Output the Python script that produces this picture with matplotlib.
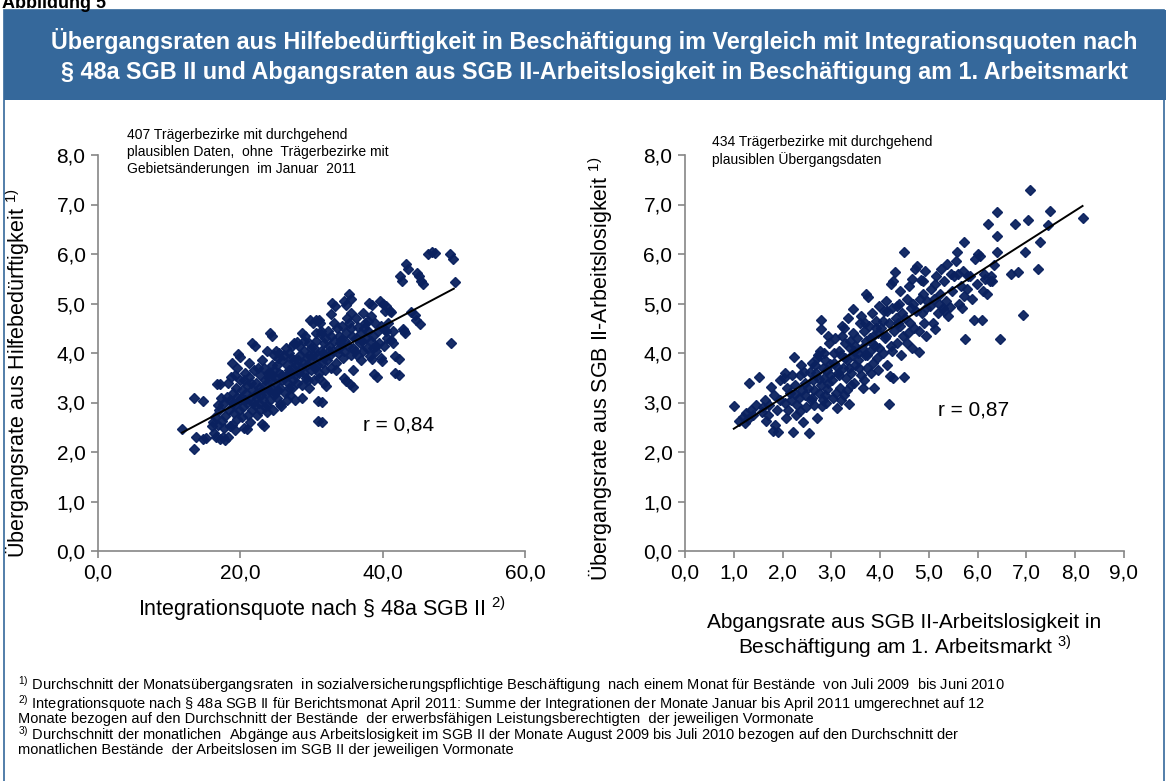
import numpy as np
import matplotlib
matplotlib.use("Agg")
from matplotlib import pyplot as plt
from matplotlib.patches import Rectangle

plt.rcParams['font.family'] = ['Liberation Sans', 'DejaVu Sans']
plt.rcParams['mathtext.fontset'] = 'custom'
plt.rcParams['mathtext.rm'] = 'Liberation Sans'
plt.rcParams['mathtext.it'] = 'Liberation Sans:italic'

# Integrationsquote (x) vs. Übergangsrate aus Hilfebedürftigkeit (y)
punkte_links = [
    (11.8, 2.46), (13.5, 2.07), (13.8, 2.31), (14.7, 2.26), (13.5, 3.09), (14.7, 3.03), (15.2, 2.28),
    (16.0, 2.53), (16.3, 2.38), (16.6, 2.31), (16.9, 2.55), (17.2, 2.27), (17.5, 2.30), (17.8, 2.24),
    (16.5, 2.70), (17.0, 2.84), (17.4, 2.62), (16.7, 3.38), (17.1, 3.37), (17.6, 2.96), (17.9, 2.72),
    (16.2, 2.61), (17.3, 3.10), (17.7, 2.48), (16.8, 2.95),
    (18.2, 3.40), (18.8, 3.80), (19.7, 3.97), (18.3, 2.30), (18.6, 2.52), (18.8, 2.55), (19.1, 2.78),
    (19.3, 2.95), (19.6, 3.12), (18.5, 3.05), (18.9, 3.20), (19.2, 3.55), (19.5, 2.66), (19.8, 2.85),
    (18.4, 2.85), (19.0, 3.00), (19.4, 3.30), (19.9, 3.45), (18.7, 3.52), (19.3, 2.45), (19.9, 3.05),
    (18.1, 3.12), (19.6, 3.70),
    (20.0, 3.92), (20.5, 2.48), (20.9, 2.46), (20.2, 2.70), (20.4, 2.90), (20.6, 3.05), (20.8, 3.20),
    (21.0, 3.35), (21.2, 3.52), (21.4, 3.10), (21.6, 2.85), (21.8, 3.00), (20.3, 3.25), (20.7, 3.60),
    (21.1, 2.75), (21.3, 2.60), (21.5, 3.40), (21.7, 3.25), (21.9, 3.65), (20.1, 3.10), (21.6, 4.21),
    (22.0, 4.14), (21.0, 3.00), (20.5, 3.45), (21.2, 3.80),
    (22.1, 2.95), (22.3, 3.10), (22.5, 3.69), (22.6, 3.30), (22.8, 2.85), (23.0, 2.57), (23.2, 3.05),
    (23.3, 2.53), (23.4, 3.45), (23.6, 3.20), (23.8, 2.95), (23.9, 3.60), (22.2, 3.40), (22.4, 2.75),
    (22.7, 3.55), (22.9, 3.15), (23.1, 3.85), (23.5, 3.35), (23.7, 4.05), (24.0, 3.25), (22.6, 3.00),
    (23.3, 3.70), (23.0, 3.25), (23.8, 2.80), (22.4, 3.20), (24.0, 3.50), (23.4, 2.90),
    (24.2, 4.41), (24.4, 4.35), (24.1, 3.05), (24.3, 3.30), (24.5, 3.55), (24.7, 3.15), (24.9, 3.40),
    (25.1, 3.75), (25.3, 3.25), (25.5, 3.60), (25.6, 2.97), (25.7, 2.93), (25.8, 3.45), (25.9, 3.85),
    (24.6, 2.85), (24.8, 3.95), (25.0, 4.05), (25.2, 3.10), (25.4, 4.00), (24.4, 3.75), (25.0, 3.50),
    (25.6, 3.30), (24.7, 3.65), (25.9, 3.55), (25.3, 3.90), (24.2, 3.60), (24.9, 3.20),
    (26.1, 3.50), (26.3, 3.20), (26.5, 3.75), (26.7, 3.40), (26.9, 4.00), (27.1, 3.60), (27.3, 3.30),
    (27.5, 3.85), (27.7, 3.55), (27.9, 4.23), (26.2, 3.95), (26.4, 4.10), (26.6, 3.05), (26.8, 3.65),
    (27.0, 3.15), (27.2, 4.15), (27.4, 3.45), (27.6, 4.20), (27.8, 3.75), (28.0, 3.40), (26.5, 3.55),
    (27.1, 3.90), (27.7, 3.05), (26.9, 3.30), (27.4, 3.70),
    (28.2, 3.60), (28.4, 3.95), (28.6, 3.35), (28.8, 3.80), (29.0, 4.05), (29.2, 3.50), (29.4, 3.75),
    (29.6, 4.20), (29.8, 4.67), (29.9, 3.65), (28.3, 4.15), (28.7, 3.10), (29.1, 4.35), (29.5, 3.45),
    (28.5, 3.70), (28.9, 4.25), (29.3, 3.90), (29.7, 3.30), (28.1, 3.85), (29.0, 3.60), (29.6, 3.95),
    (28.6, 4.40), (29.9, 4.10),
    (30.2, 4.61), (30.7, 4.67), (31.2, 4.61), (30.9, 3.03), (30.9, 2.63), (31.5, 3.02), (31.5, 2.61),
    (31.0, 4.67), (31.3, 4.38), (31.8, 3.39), (30.1, 3.85), (30.3, 4.10), (30.5, 3.70), (30.7, 4.25),
    (30.9, 3.95), (31.1, 3.60), (31.3, 4.05), (31.5, 3.80), (31.7, 4.20), (31.9, 3.65), (30.4, 3.45),
    (30.6, 4.40), (31.0, 3.50), (31.4, 4.45), (31.8, 3.90), (30.2, 3.95), (31.6, 4.00), (30.8, 3.75),
    (31.9, 4.30),
    (32.1, 3.34), (32.8, 4.78), (32.9, 5.02), (33.3, 4.95), (32.2, 3.85), (32.4, 4.15), (32.6, 3.95),
    (32.8, 4.35), (33.0, 4.05), (33.2, 4.25), (33.4, 3.80), (33.6, 4.50), (33.8, 4.10), (33.9, 4.35),
    (32.3, 4.45), (32.7, 3.70), (33.1, 4.60), (33.5, 3.65), (33.7, 4.00), (32.5, 4.05), (34.0, 4.20),
    (34.2, 4.27), (34.5, 5.06), (34.8, 4.96), (35.2, 5.19), (35.5, 5.10), (34.8, 3.43), (35.8, 3.31),
    (35.8, 3.65), (35.4, 3.37), (34.5, 3.50), (35.6, 4.81), (34.3, 4.55), (34.6, 4.05), (34.9, 4.40),
    (35.1, 4.15), (35.3, 4.60), (35.5, 3.95), (35.7, 4.35), (35.9, 4.10), (34.4, 3.90), (35.0, 4.70),
    (35.6, 4.50), (34.7, 4.25),
    (36.6, 4.52), (37.3, 4.81), (37.5, 4.60), (36.2, 4.30), (36.4, 3.95), (36.8, 4.20), (37.0, 4.40),
    (37.2, 4.05), (37.6, 4.30), (37.8, 4.10), (36.3, 4.70), (36.9, 3.85), (37.4, 4.50), (37.9, 4.65),
    (36.1, 4.05), (37.1, 4.25),
    (38.1, 5.02), (38.5, 4.97), (38.4, 4.74), (38.0, 4.44), (38.5, 3.88), (38.8, 3.57), (39.2, 3.52),
    (39.6, 5.05), (39.7, 3.89), (39.8, 4.55), (39.9, 3.84), (38.2, 3.93), (38.3, 4.25), (38.7, 4.35),
    (39.0, 4.15), (39.3, 4.45), (39.5, 4.20), (38.9, 4.60), (39.1, 4.05), (38.6, 4.10),
    (40.0, 5.00), (40.3, 4.85), (40.5, 4.94), (41.1, 4.85), (40.3, 4.46), (40.5, 4.44), (41.2, 4.83),
    (41.2, 4.26), (41.4, 4.20), (41.8, 3.93), (41.8, 3.60), (40.2, 4.15), (40.8, 4.60), (41.5, 4.45),
    (40.6, 4.30),
    (42.3, 3.88), (42.3, 3.55), (42.7, 5.46), (43.6, 5.70), (43.3, 5.79), (42.4, 5.56), (43.1, 4.40),
    (42.8, 4.48), (44.0, 4.83), (44.7, 4.67), (44.5, 4.76), (45.2, 4.59), (44.8, 5.62), (45.1, 5.56),
    (45.4, 5.46), (45.7, 5.39), (43.0, 4.45),
    (46.4, 5.99), (47.0, 6.05), (47.3, 6.03), (49.4, 5.99), (49.9, 5.90), (50.1, 5.43), (49.6, 4.20),
]

# Abgangsrate aus SGB II-Arbeitslosigkeit (x) vs. Übergangsrate (y)
punkte_rechts = [
    (1.01, 2.92), (1.10, 2.62), (1.18, 2.70), (1.25, 2.78), (1.31, 3.39), (1.35, 2.85), (1.40, 2.75),
    (1.22, 2.58), (1.45, 2.95), (1.30, 2.66),
    (1.51, 3.51), (1.60, 2.90), (1.65, 3.05), (1.70, 2.75), (1.76, 3.32), (1.80, 2.42), (1.85, 2.55),
    (1.90, 2.40), (1.72, 2.95), (1.95, 3.05), (1.58, 2.80), (1.88, 2.85), (1.95, 3.45), (1.82, 3.15),
    (1.66, 2.62),
    (2.02, 3.49), (2.05, 3.60), (2.08, 2.68), (2.12, 2.85), (2.15, 3.20), (2.18, 3.05), (2.21, 2.40),
    (2.23, 3.91), (2.26, 3.35), (2.30, 2.95), (2.33, 3.10), (2.36, 3.55), (2.40, 3.25), (2.42, 2.60),
    (2.45, 3.40), (2.48, 2.90), (2.10, 3.30), (2.28, 2.75), (2.38, 3.75), (2.46, 3.15), (2.20, 3.55),
    (2.35, 2.82), (2.44, 3.62), (2.05, 3.00), (2.25, 3.18),
    (2.52, 3.30), (2.55, 2.39), (2.58, 3.05), (2.60, 3.80), (2.62, 3.45), (2.65, 2.95), (2.68, 3.60),
    (2.71, 2.69), (2.72, 3.95), (2.74, 3.20), (2.76, 4.05), (2.78, 3.35), (2.79, 4.66), (2.79, 4.48),
    (2.80, 2.92), (2.82, 3.70), (2.84, 3.50), (2.86, 3.15), (2.88, 3.85), (2.90, 3.00), (2.92, 3.65),
    (2.94, 3.40), (2.96, 4.20), (2.98, 3.55), (2.56, 3.62), (2.64, 3.25), (2.70, 3.90), (2.85, 4.00),
    (2.91, 3.28), (2.97, 3.78), (2.60, 3.10), (2.75, 3.48), (2.83, 3.05), (2.93, 4.35), (2.67, 3.75),
    (3.02, 3.45), (3.05, 3.80), (3.08, 4.30), (3.11, 2.88), (3.13, 3.60), (3.15, 4.05), (3.18, 3.30),
    (3.20, 3.95), (3.22, 4.55), (3.24, 3.70), (3.26, 3.15), (3.28, 4.20), (3.30, 3.50), (3.32, 3.85),
    (3.34, 4.70), (3.37, 2.96), (3.38, 4.10), (3.40, 3.60), (3.42, 3.95), (3.44, 4.40), (3.45, 4.88),
    (3.47, 3.40), (3.49, 3.75), (3.06, 4.00), (3.10, 3.20), (3.16, 3.55), (3.21, 4.35), (3.27, 3.90),
    (3.33, 3.25), (3.39, 4.25), (3.46, 4.05), (3.12, 3.72), (3.25, 4.50), (3.36, 3.70), (3.48, 4.15),
    (3.03, 3.10), (3.19, 3.05), (3.41, 3.35),
    (3.52, 4.30), (3.55, 3.85), (3.58, 4.60), (3.60, 3.55), (3.62, 4.10), (3.64, 3.30), (3.66, 4.45),
    (3.68, 3.95), (3.71, 5.20), (3.72, 4.25), (3.74, 3.70), (3.76, 5.13), (3.78, 4.55), (3.80, 4.05),
    (3.82, 3.60), (3.84, 4.80), (3.86, 4.35), (3.88, 3.29), (3.90, 4.15), (3.92, 4.65), (3.94, 3.90),
    (3.96, 4.40), (3.98, 4.95), (3.54, 4.00), (3.61, 4.75), (3.67, 3.45), (3.73, 3.95), (3.79, 4.30),
    (3.85, 3.80), (3.91, 4.50), (3.97, 4.10), (3.57, 3.70), (3.70, 4.60), (3.83, 4.20), (3.95, 3.65),
    (4.02, 4.50), (4.05, 4.00), (4.08, 4.85), (4.10, 4.30), (4.12, 5.05), (4.15, 3.75), (4.18, 2.96),
    (4.18, 4.60), (4.20, 3.54), (4.22, 5.40), (4.22, 4.15), (4.25, 4.90), (4.27, 3.50), (4.28, 4.45),
    (4.31, 5.64), (4.32, 4.70), (4.35, 4.20), (4.38, 5.00), (4.40, 4.55), (4.42, 3.95), (4.44, 4.80),
    (4.48, 6.04), (4.48, 3.51), (4.46, 4.35), (4.06, 4.65), (4.14, 4.85), (4.24, 4.05), (4.34, 4.95),
    (4.41, 5.25), (4.26, 5.45), (4.36, 4.60), (4.12, 4.35),
    (4.52, 4.70), (4.55, 5.10), (4.58, 4.40), (4.60, 5.35), (4.62, 4.60), (4.65, 4.10), (4.68, 5.00),
    (4.70, 4.50), (4.72, 5.70), (4.76, 5.75), (4.79, 4.03), (4.80, 4.45), (4.83, 5.48), (4.85, 4.80),
    (4.87, 5.20), (4.90, 4.60), (4.92, 5.65), (4.95, 4.35), (4.97, 5.05), (4.56, 4.20), (4.66, 5.50),
    (4.74, 4.85), (4.88, 5.45), (4.63, 4.90), (4.94, 4.90), (4.82, 5.10),
    (5.02, 4.95), (5.05, 5.30), (5.08, 4.60), (5.10, 5.10), (5.13, 4.48), (5.15, 5.55), (5.18, 4.80),
    (5.22, 5.20), (5.25, 5.70), (5.28, 4.90), (5.32, 5.45), (5.35, 5.05), (5.38, 5.80), (5.40, 4.75),
    (5.43, 4.92), (5.45, 5.60), (5.48, 5.25), (5.20, 5.00), (5.30, 4.85), (5.12, 5.40),
    (5.52, 5.55), (5.55, 5.85), (5.58, 6.04), (5.60, 5.60), (5.62, 5.00), (5.65, 5.35), (5.68, 4.90),
    (5.70, 5.65), (5.73, 6.24), (5.75, 4.28), (5.78, 5.30), (5.80, 5.55), (5.84, 5.55), (5.88, 5.10),
    (5.92, 4.66), (5.95, 5.90), (5.98, 5.40), (5.72, 5.15),
    (6.00, 6.00), (6.05, 5.95), (6.08, 4.66), (6.10, 5.25), (6.15, 5.50), (6.20, 5.20), (6.22, 6.60),
    (6.26, 5.46), (6.30, 5.45), (6.33, 5.77), (6.39, 6.85), (6.39, 6.36), (6.39, 6.04), (6.46, 4.28),
    (6.12, 5.60), (6.28, 5.55),
    (6.68, 5.60), (6.76, 6.60), (6.83, 5.63), (6.93, 4.77), (6.97, 6.04), (7.04, 6.69), (7.08, 7.29),
    (7.24, 5.69), (7.28, 6.25), (7.44, 6.58), (7.49, 6.87), (8.15, 6.72),
]

# Trendlinien (Anfang/Ende)
trend_links = ([11.8, 50.0], [2.39, 5.30])
trend_rechts = ([1.0, 8.15], [2.47, 6.97])

y_ticks = [0, 1, 2, 3, 4, 5, 6, 7, 8]
x_ticks_links = [0, 20, 40, 60]
x_ticks_rechts = [0, 1, 2, 3, 4, 5, 6, 7, 8, 9]

titel = ("Übergangsraten aus Hilfebedürftigkeit in Beschäftigung im Vergleich mit Integrationsquoten nach\n"
         "§ 48a SGB II und Abgangsraten aus SGB II-Arbeitslosigkeit in Beschäftigung am 1. Arbeitsmarkt")
hinweis_links = ("407 Trägerbezirke mit durchgehend\nplausiblen Daten,  ohne  Trägerbezirke mit\n"
                 "Gebietsänderungen  im Januar  2011")
hinweis_rechts = "434 Trägerbezirke mit durchgehend\nplausiblen Übergangsdaten"
fussnoten = [
    r"$^{1)}$ Durchschnitt der Monatsübergangsraten  in sozialversicherungspflichtige Beschäftigung  nach einem Monat für Bestände  von Juli 2009  bis Juni 2010",
    r"$^{2)}$ Integrationsquote nach § 48a SGB II für Berichtsmonat April 2011: Summe der Integrationen der Monate Januar bis April 2011 umgerechnet auf 12",
    "Monate bezogen auf den Durchschnitt der Bestände  der erwerbsfähigen Leistungsberechtigten  der jeweiligen Vormonate",
    r"$^{3)}$ Durchschnitt der monatlichen  Abgänge aus Arbeitslosigkeit im SGB II der Monate August 2009 bis Juli 2010 bezogen auf den Durchschnitt der",
    "monatlichen Bestände  der Arbeitslosen im SGB II der jeweiligen Vormonate",
]

blau = '#35689b'
punkt_farbe = '#0a215f'
grau = '#868686'

W, H = 1166, 781
fig = plt.figure(figsize=(W / 100, H / 100), dpi=100)

# Rahmen und Titelbalken
fig.patches.append(Rectangle((4 / W, -0.01), 1160 / W, 1 - 10 / H + 0.01, transform=fig.transFigure,
                             facecolor='none', edgecolor=blau, lw=1.2))
fig.patches.append(Rectangle((4 / W, 1 - 100 / H), 1162 / W, 90 / H, transform=fig.transFigure,
                             facecolor=blau, edgecolor='none'))
fig.text(594 / W, 1 - 56 / H, titel, color='white', fontsize=16.8, fontweight='bold',
         ha='center', va='center', linespacing=1.35)
fig.text(2 / W, 1 - 8 / H, "Abbildung 5", fontsize=13, fontweight='bold', ha='left', va='baseline')


def streudiagramm(pos, punkte, trend, x_ticks, x_fmt):
    ax = fig.add_axes(pos)
    xs = [p[0] for p in punkte]
    ys = [p[1] for p in punkte]
    ax.plot(xs, ys, ls='none', marker='D', ms=5.0, color=punkt_farbe, mec=punkt_farbe, alpha=0.95)
    ax.plot(trend[0], trend[1], color='black', lw=1.4)
    ax.set_xlim(x_ticks[0], x_ticks[-1])
    ax.set_ylim(0, 8)
    ax.set_xticks(x_ticks)
    ax.set_xticklabels([x_fmt.format(v).replace('.', ',') for v in x_ticks])
    ax.set_yticks(y_ticks)
    ax.set_yticklabels([f"{v:.1f}".replace('.', ',') for v in y_ticks])
    for s in ['top', 'right']:
        ax.spines[s].set_visible(False)
    for s in ['left', 'bottom']:
        ax.spines[s].set_color(grau)
        ax.spines[s].set_linewidth(1.2)
    ax.tick_params(direction='out', length=5, width=1.2, color=grau, labelsize=15, pad=4)
    ax.set_facecolor('none')
    return ax


ax1 = streudiagramm([98 / W, 1 - 551 / H, 427 / W, 396 / H], punkte_links, trend_links,
                    x_ticks_links, "{:.1f}")
ax1.set_ylabel(r"Übergangsrate aus Hilfebedürftigkeit $^{1)}$", fontsize=15.5)
ax1.yaxis.set_label_coords(-0.155, 0.45)
ax1.set_xlabel(r"Integrationsquote nach § 48a SGB II $^{2)}$", fontsize=15.5, labelpad=8)
ax1.xaxis.set_label_coords(0.525, -0.11)
ax1.text(37.3, 2.55, "r = 0,84", fontsize=15, ha='left', va='center')

ax2 = streudiagramm([685 / W, 1 - 551 / H, 439 / W, 396 / H], punkte_rechts, trend_rechts,
                    x_ticks_rechts, "{:.1f}")
ax2.set_ylabel(r"Übergangsrate aus SGB II-Arbeitslosigkeit $^{1)}$", fontsize=15.5)
ax2.yaxis.set_label_coords(-0.16, 0.46)
ax2.set_xlabel("Abgangsrate aus SGB II-Arbeitslosigkeit in\n" + r"Beschäftigung am 1. Arbeitsmarkt $^{3)}$",
               fontsize=15, labelpad=22, linespacing=1.1)
ax2.text(5.18, 2.85, "r = 0,87", fontsize=15, ha='left', va='center')

fig.text(127 / W, 1 - 128 / H, hinweis_links, fontsize=10, ha='left', va='top', linespacing=1.25)
fig.text(712 / W, 1 - 135 / H, hinweis_rechts, fontsize=10, ha='left', va='top', linespacing=1.25)

# Fußnoten als ein Block
fig.text(18 / W, 1 - 674 / H, "\n".join(fussnoten), fontsize=10.5, ha='left', va='top',
         linespacing=0.86)

fig.savefig("out.png", dpi=100)
